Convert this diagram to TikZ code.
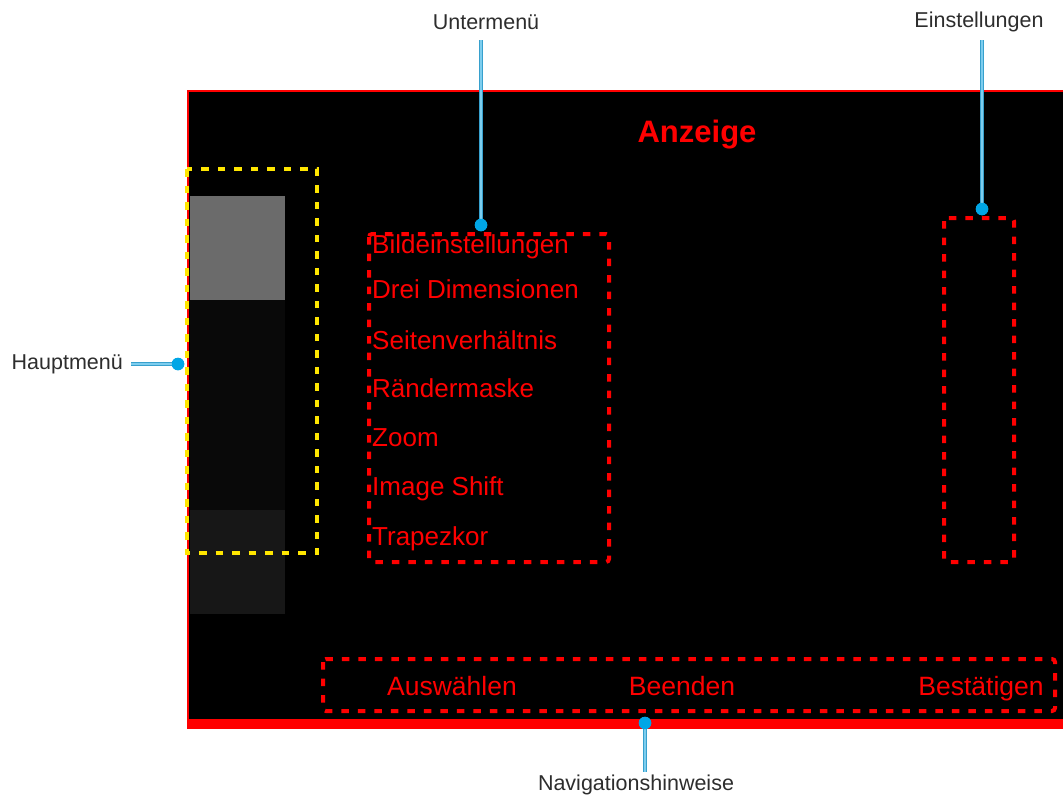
\documentclass[tikz,border=0pt]{standalone}
\usepackage{fontspec}
\setmainfont{Liberation Sans}
\definecolor{osdred}{RGB}{255,0,0}
\definecolor{osdyellow}{RGB}{255,230,0}
\definecolor{tabgray}{RGB}{107,107,107}
\definecolor{tabdark}{RGB}{9,9,9}
\definecolor{tabdim}{RGB}{23,23,23}
\definecolor{calltext}{RGB}{45,45,45}
\definecolor{pindot}{RGB}{0,166,230}
\definecolor{leadedge}{RGB}{55,160,205}
\definecolor{leadfill}{RGB}{125,205,238}

\begin{document}
\begin{tikzpicture}[x=1pt,y=-1pt,
  menu/.style={anchor=base west,text=osdred,inner sep=0pt,font=\fontsize{26}{26}\selectfont},
  hint/.style={anchor=base,text=osdred,inner sep=0pt,font=\fontsize{26.5}{26.5}\selectfont},
  callout/.style={text=calltext,inner sep=3pt,font=\fontsize{21.5}{21.5}\selectfont},
  pin/.style={circle,fill=pindot,inner sep=0pt,minimum size=12.5pt},
  lead/.style={draw=leadedge,double=leadfill,double distance=2pt,line width=1pt},
  ydash/.style={draw=osdyellow,line width=4pt,dash pattern=on 7.5pt off 9pt},
  rdash/.style={draw=osdred,line width=4pt,dash pattern=on 7.5pt off 9pt,rounded corners=3pt}]
  \useasboundingbox (0,0) rectangle (1063,798);
  \fill[black] (187,90) rectangle (1063,719);
  \fill[osdred] (187,719) rectangle (1063,729);
  \draw[osdred,line width=2.5pt] (187,91.2) -- (1063,91.2);
  \draw[osdred,line width=2.5pt] (188.2,90) -- (188.2,729);
  \fill[tabgray] (189.5,196) rectangle (285,300);
  \fill[tabdark] (189.5,300) rectangle (285,510);
  \fill[tabdim] (189.5,510) rectangle (285,614);
  \draw[ydash] (187,169) rectangle (317,553);
  \draw[rdash] (369,234) rectangle (609,562);
  \draw[rdash] (944,218) rectangle (1014,562);
  \draw[rdash] (323,659) rectangle (1055,711);
  \node[text=osdred,anchor=base,inner sep=0pt,font=\fontsize{31}{31}\selectfont\bfseries] (titel) at (697,142) {Anzeige};
  \node[menu] (m1) at (372,253) {Bildeinstellungen};
  \node[menu] (m2) at (372,298) {Drei Dimensionen};
  \node[menu] (m3) at (372,349) {Seitenverhältnis};
  \node[menu] (m4) at (372,397) {Rändermaske};
  \node[menu] (m5) at (372,446) {Zoom};
  \node[menu] (m6) at (372,495) {Image Shift};
  \node[menu] (m7) at (372,545) {Trapezkor};
  \node[hint] (h1) at (452,695) {Auswählen};
  \node[hint] (h2) at (682,695) {Beenden};
  \node[hint] (h3) at (981,695) {Bestätigen};
  \node[callout] (labUnter) at (486,22) {Untermenü};
  \node[callout] (labEinst) at (979,22) {Einstellungen};
  \node[callout,anchor=east] (labHaupt) at (126,364) {Hauptmenü};
  \node[callout] (labNavi) at (636,785) {Navigationshinweise};
  \node[pin] (pUnter) at (481,225) {};
  \node[pin] (pEinst) at (982,209) {};
  \node[pin] (pHaupt) at (178,364) {};
  \node[pin] (pNavi) at (645,723) {};
  \draw[lead] (pUnter.center) -- (pUnter |- 0,40);
  \draw[lead] (pEinst.center) -- (pEinst |- 0,40);
  \draw[lead,shorten >=5pt] (pHaupt.center) -- (labHaupt.east);
  \draw[lead] (pNavi.center) -- (pNavi |- 0,772);
  \node[pin] at (pUnter) {};
  \node[pin] at (pEinst) {};
  \node[pin] at (pHaupt) {};
  \node[pin] at (pNavi) {};
\end{tikzpicture}
\end{document}
